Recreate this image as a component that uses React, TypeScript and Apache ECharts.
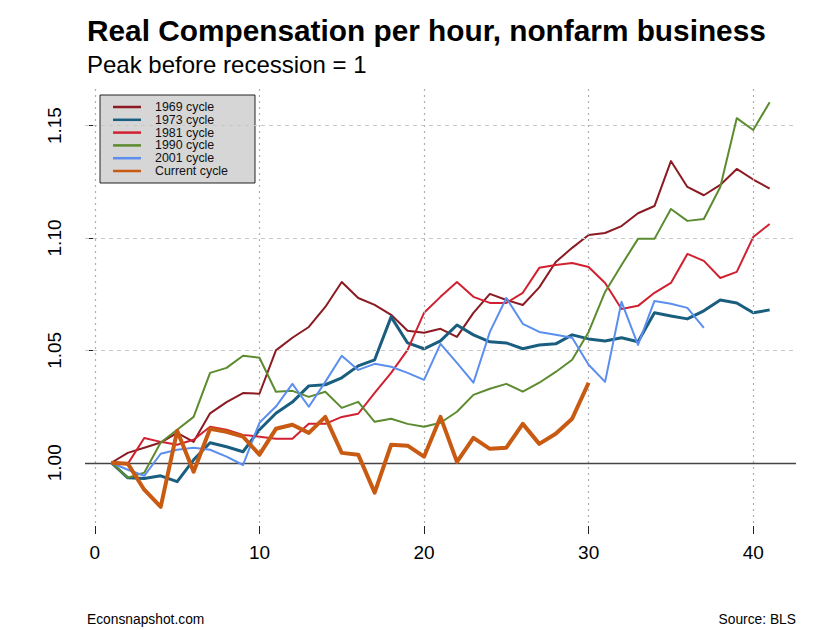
import React, { useEffect, useRef } from "react";
import * as echarts from "echarts";

const periods = [1, 2, 3, 4, 5, 6, 7, 8, 9, 10, 11, 12, 13, 14, 15, 16, 17, 18, 19, 20, 21, 22, 23, 24, 25, 26, 27, 28, 29, 30, 31, 32, 33, 34, 35, 36, 37, 38, 39, 40, 41];

const cycle1969 = [1.0, 1.0044, 1.0067, 1.009, 1.0133, 1.0093, 1.022, 1.027, 1.031, 1.0307, 1.05, 1.0556, 1.0604, 1.0693, 1.0804, 1.0733, 1.0702, 1.0658, 1.0587, 1.0578, 1.0596, 1.056, 1.0667, 1.0751, 1.0724, 1.0702, 1.078, 1.0893, 1.0956, 1.1013, 1.1022, 1.1053, 1.111, 1.1142, 1.1342, 1.1227, 1.119, 1.1236, 1.1307, 1.126, 1.122];
const cycle1973 = [1.0, 0.9933, 0.993, 0.9942, 0.9916, 1.0013, 1.0089, 1.0071, 1.0049, 1.0147, 1.022, 1.027, 1.0342, 1.0347, 1.0378, 1.0431, 1.0458, 1.0649, 1.0533, 1.0507, 1.0542, 1.0613, 1.0569, 1.0538, 1.0533, 1.0507, 1.0524, 1.0529, 1.0569, 1.0551, 1.0542, 1.0556, 1.0538, 1.0667, 1.0653, 1.064, 1.0676, 1.0724, 1.0711, 1.0667, 1.068];
const cycle1981 = [1.0, 0.9995, 1.011, 1.0093, 1.008, 1.0102, 1.016, 1.0147, 1.0124, 1.0116, 1.0107, 1.0107, 1.0173, 1.0173, 1.0204, 1.0218, 1.0311, 1.04, 1.0502, 1.0667, 1.0738, 1.0804, 1.0738, 1.0711, 1.0711, 1.0756, 1.0867, 1.088, 1.0889, 1.0871, 1.08, 1.0684, 1.0698, 1.0756, 1.08, 1.0929, 1.0898, 1.0822, 1.0849, 1.1004, 1.1062];
const cycle1990 = [1.0, 0.9933, 0.9956, 1.009, 1.0147, 1.0204, 1.04, 1.0422, 1.0476, 1.0467, 1.0316, 1.032, 1.0293, 1.0316, 1.0244, 1.0271, 1.0182, 1.0196, 1.0173, 1.016, 1.0178, 1.0227, 1.0302, 1.0329, 1.0351, 1.0316, 1.0356, 1.0404, 1.0458, 1.0582, 1.076, 1.088, 1.0996, 1.0996, 1.1129, 1.1076, 1.1084, 1.1227, 1.1533, 1.148, 1.1604];
const cycle2001 = [1.0, 0.9969, 0.9942, 1.004, 1.0058, 1.0067, 1.0058, 1.0027, 0.999, 1.0178, 1.025, 1.0351, 1.0249, 1.036, 1.0476, 1.0413, 1.044, 1.0427, 1.04, 1.0369, 1.0529, 1.0444, 1.0356, 1.0582, 1.0733, 1.0618, 1.0582, 1.0569, 1.0556, 1.0436, 1.036, 1.0716, 1.0524, 1.072, 1.0707, 1.0689, 1.06];
const cycleCurrent = [1.0, 0.9996, 0.988, 0.9804, 1.0142, 0.996, 1.0151, 1.0138, 1.0116, 1.0036, 1.0151, 1.0169, 1.0133, 1.0204, 1.0044, 1.0036, 0.9867, 1.008, 1.0076, 1.0027, 1.0204, 1.0004, 1.0111, 1.0062, 1.0067, 1.0173, 1.0084, 1.0129, 1.0196, 1.0356];

const seriesNames = ["1969 cycle", "1973 cycle", "1981 cycle", "1990 cycle", "2001 cycle", "Current cycle"];
const seriesValues = [cycle1969, cycle1973, cycle1981, cycle1990, cycle2001, cycleCurrent];
const seriesColors = ["#8B1A22", "#1A5E7F", "#D12030", "#5C8B30", "#5B8EEE", "#C85A12"];
const seriesWidths = [2, 3, 2, 2, 2, 4];

const xTicks = [0, 10, 20, 30, 40];
const yTicks = [1.0, 1.05, 1.1, 1.15];
const yGrid = [1.05, 1.1, 1.15];

const titleText = "Real Compensation per hour, nonfarm business";
const subtitleText = "Peak before recession = 1";
const footLeft = "Econsnapshot.com";
const footRight = "Source: BLS";

const FONT = '"Liberation Sans", Arial, Helvetica, sans-serif';

export default function App() {
  const ref = useRef<HTMLDivElement>(null);

  useEffect(() => {
    const chart = echarts.init(ref.current as HTMLDivElement, null, { renderer: "svg" });

    const helper = {
      type: "line",
      name: "__grid",
      data: [[1, 1]],
      symbol: "none",
      lineStyle: { opacity: 0 },
      silent: true,
      z: 1,
      markLine: {
        silent: true,
        symbol: ["none", "none"],
        label: { show: false },
        animation: false,
        data: [
          ...yGrid.map((v) => ({ yAxis: v, lineStyle: { type: [4, 4], color: "#c8c8c8", width: 1 } })),
          ...xTicks.map((v) => ({ xAxis: v, lineStyle: { type: [2, 4], color: "#b0b0b0", width: 1.2 } })),
          { yAxis: 1, lineStyle: { type: "solid", color: "#444", width: 1.4 } },
        ],
      },
    };

    const lines = seriesNames.map((name, i) => ({
      type: "line",
      name,
      data: seriesValues[i].map((v, j) => [periods[j], v]),
      symbol: "none",
      showSymbol: false,
      color: seriesColors[i],
      lineStyle: { color: seriesColors[i], width: seriesWidths[i], join: "round" },
      z: 2 + i,
    }));

    const option: any = {
      animation: false,
      backgroundColor: "#ffffff",
      textStyle: { fontFamily: FONT },
      grid: { left: 85, right: 44, top: 86, bottom: 107, containLabel: false },
      xAxis: {
        type: "value",
        min: -0.6,
        max: 42.6,
        offset: 3,
        axisLine: { show: false },
        axisTick: { show: true, customValues: xTicks, length: 8, lineStyle: { color: "#222", width: 1 } },
        axisLabel: { show: true, customValues: xTicks, fontSize: 19, color: "#000", margin: 17, fontFamily: FONT },
        splitLine: { show: false },
      },
      yAxis: {
        type: "value",
        min: 0.9732,
        max: 1.1676,
        offset: 2,
        axisLine: { show: false },
        axisTick: { show: true, customValues: yTicks, length: 8, lineStyle: { color: "#222", width: 1 } },
        axisLabel: {
          show: true,
          customValues: yTicks,
          rotate: 90,
          fontSize: 19,
          color: "#000",
          margin: 19,
          fontFamily: FONT,
          formatter: (v: number) => v.toFixed(2),
        },
        splitLine: { show: false },
      },
      legend: {
        orient: "vertical",
        left: 100,
        top: 95,
        data: seriesNames,
        icon: "rect",
        itemWidth: 28,
        itemHeight: 2.5,
        itemGap: 0,
        selectedMode: false,
        padding: [5.6, 27, 5.6, 13],
        backgroundColor: "#d6d6d6",
        borderColor: "#222",
        borderWidth: 1,
        borderRadius: 0,
        textStyle: { fontSize: 12.4, lineHeight: 12.8, color: "#111", fontFamily: FONT, padding: [0, 0, 0, 9] },
      },
      graphic: [
        { type: "text", x: 87, y: 30, style: { text: titleText, font: `bold 29.8px ${FONT}`, fill: "#000", verticalAlign: "middle", align: "left" } },
        { type: "text", x: 87, y: 64, style: { text: subtitleText, font: `24px ${FONT}`, fill: "#000", verticalAlign: "middle", align: "left" } },
        { type: "text", x: 87, y: 619, style: { text: footLeft, font: `13.8px ${FONT}`, fill: "#000", verticalAlign: "middle", align: "left" } },
        { type: "text", x: 796, y: 619, style: { text: footRight, font: `13.8px ${FONT}`, fill: "#000", verticalAlign: "middle", align: "right" } },
      ],
      series: [helper, ...lines],
    };

    chart.setOption(option);
    return () => chart.dispose();
  }, []);

  return <div ref={ref} style={{ position: "fixed", left: 0, top: 0, width: 840, height: 630 }} />;
}
